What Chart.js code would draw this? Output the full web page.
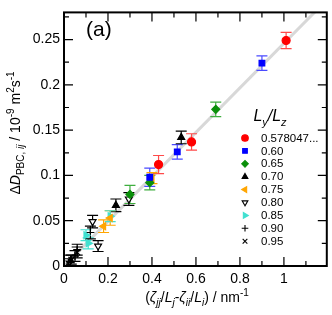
<!DOCTYPE html>
<html>
<head>
<meta charset="utf-8">
<script src="https://cdn.jsdelivr.net/npm/chart.js"></script>
<style>
  html, body { margin: 0; padding: 0; background: #fff; }
  #wrap { width: 332px; height: 315px; }
</style>
</head>
<body>
<div id="wrap"><canvas id="dpbcChart" width="332" height="315"></canvas></div>
<script>
    // L_y/L_z groups
    const ratioLabels = ['0.578047...', '0.60', '0.65', '0.70', '0.75', '0.80', '0.85', '0.90', '0.95'];

    // (zeta_jj/L_j - zeta_ii/L_i) in nm^-1
    const xData = [
        [0.43, 0.58, 1.01],
        [0.39, 0.515, 0.90],
        [0.30, 0.39, 0.69],
        [0.03, 0.236, 0.533],
        [0.18, 0.21, 0.40],
        [0.13, 0.155, 0.295],
        [0.10, 0.11, 0.21],
        [0.05, 0.06, 0.12],
        [0.02, 0.033, 0.06]
    ];
    // Delta D_PBC,ij in 10^-9 m^2 s^-1
    const yData = [
        [0.112, 0.137, 0.249],
        [0.098, 0.126, 0.224],
        [0.079, 0.092, 0.173],
        [0.006, 0.067, 0.142],
        [0.044, 0.053, 0.097],
        [0.049, 0.022, 0.074],
        [0.034, 0.025, 0.055],
        [0.011, 0.018, 0.037],
        [0.003, 0.007, 0.015]
    ];
    const yErr = [
        [0.010, 0.009, 0.009],
        [0.010, 0.008, 0.008],
        [0.010, 0.008, 0.008],
        [0.006, 0.007, 0.007],
        [0.007, 0.008, 0.006],
        [0.007, 0.006, 0.007],
        [0.006, 0.006, 0.006],
        [0.006, 0.006, 0.007],
        [0.005, 0.005, 0.006]
    ];

    // fitted line
    const fitX = [0, 1.2];
    const fitY = [0, 0.295];

    const xTicks = [0, 0.2, 0.4, 0.6, 0.8, 1];
    const yTicks = [0, 0.05, 0.1, 0.15, 0.2, 0.25];
    const xMinor = [0.1, 0.3, 0.5, 0.7, 0.9, 1.1];
    const yMinor = [0.025, 0.075, 0.125, 0.175, 0.225, 0.275];

    const FONT = '"Liberation Sans", Arial, Helvetica, sans-serif';

    const styles = [
        { color: '#ff0000', err: '#ff4a4a', style: 'circle', rot: 0, fill: '#ff0000' },
        { color: '#0000ff', err: '#4a4aff', style: 'rect', rot: 0, fill: '#0000ff' },
        { color: '#0a8f0a', err: '#3fae3f', style: 'rectRot', rot: 0, fill: '#0a8f0a' },
        { color: '#000000', err: '#000000', style: 'triangle', rot: 0, fill: '#000000' },
        { color: '#ffa500', err: '#ffa500', style: 'triangle', rot: -90, fill: '#ffa500' },
        { color: '#000000', err: '#000000', style: 'triangle', rot: 180, fill: '#ffffff' },
        { color: '#40e0d0', err: '#40e0d0', style: 'triangle', rot: 90, fill: '#40e0d0' },
        { color: '#000000', err: '#000000', style: 'cross', rot: 0, fill: '#000000' },
        { color: '#000000', err: '#000000', style: 'crossRot', rot: 0, fill: '#000000' }
    ];

    const datasets = ratioLabels.map((lab, i) => ({
        label: lab,
        data: xData[i].map((x, j) => ({ x: x, y: yData[i][j] })),
        pointStyle: styles[i].style,
        pointRotation: styles[i].rot,
        pointRadius: 4,
        pointBackgroundColor: styles[i].fill,
        pointBorderColor: styles[i].color,
        pointBorderWidth: 1.2,
        showLine: false,
        order: 0
    }));
    const lineIndex = datasets.length;
    datasets.push({
        label: 'fit',
        data: fitX.map((x, j) => ({ x: x, y: fitY[j] })),
        showLine: true,
        borderColor: '#d8d8d8',
        borderWidth: 3,
        pointRadius: 0,
        order: 10
    });

    // draw a list of [text, kind] pieces; kind: '', 'i', 'sub', 'isub', 'sup'
    function richText(ctx, segs, cx, cy, size, angle) {
        const fontFor = (k) => {
            const small = (k === 'sub' || k === 'isub' || k === 'sup');
            const it = (k === 'i' || k === 'isub');
            return (it ? 'italic ' : '') + (small ? Math.round(size * 0.7) : size) + 'px ' + FONT;
        };
        let w = 0;
        segs.forEach(s => { ctx.font = fontFor(s[1]); w += ctx.measureText(s[0]).width; });
        ctx.save();
        ctx.translate(cx, cy);
        ctx.rotate(angle || 0);
        ctx.fillStyle = '#000';
        ctx.textBaseline = 'alphabetic';
        ctx.textAlign = 'left';
        let x = -w / 2;
        segs.forEach(s => {
            ctx.font = fontFor(s[1]);
            let dy = 0;
            if (s[1] === 'sub' || s[1] === 'isub') dy = size * 0.3;
            if (s[1] === 'sup') dy = -size * 0.45;
            ctx.fillText(s[0], x, dy);
            x += ctx.measureText(s[0]).width;
        });
        ctx.restore();
    }

    const decorations = {
        id: 'decorations',
        afterDatasetDraw(chart, args) {
            if (args.index !== lineIndex) return;
            const ctx = chart.ctx, xs = chart.scales.x, ys = chart.scales.y, a = chart.chartArea;
            ctx.save();
            ctx.beginPath();
            ctx.rect(a.left, a.top, a.right - a.left, a.bottom - a.top);
            ctx.clip();
            ctx.lineWidth = 1.2;
            for (let i = 0; i < ratioLabels.length; i++) {
                ctx.strokeStyle = styles[i].err;
                for (let j = 0; j < xData[i].length; j++) {
                    const px = xs.getPixelForValue(xData[i][j]);
                    const y1 = ys.getPixelForValue(yData[i][j] - yErr[i][j]);
                    const y2 = ys.getPixelForValue(yData[i][j] + yErr[i][j]);
                    ctx.beginPath();
                    ctx.moveTo(px, y1); ctx.lineTo(px, y2);
                    ctx.moveTo(px - 5.5, y1); ctx.lineTo(px + 5.5, y1);
                    ctx.moveTo(px - 5.5, y2); ctx.lineTo(px + 5.5, y2);
                    ctx.stroke();
                }
            }
            ctx.restore();
        },
        afterDraw(chart) {
            const ctx = chart.ctx, xs = chart.scales.x, ys = chart.scales.y, a = chart.chartArea;
            ctx.save();
            // inward ticks on all sides
            ctx.strokeStyle = '#000';
            ctx.lineWidth = 1.2;
            ctx.beginPath();
            const xt = (v, len) => {
                const p = xs.getPixelForValue(v);
                ctx.moveTo(p, a.bottom); ctx.lineTo(p, a.bottom - len);
                ctx.moveTo(p, a.top); ctx.lineTo(p, a.top + len);
            };
            const yt = (v, len) => {
                const p = ys.getPixelForValue(v);
                ctx.moveTo(a.left, p); ctx.lineTo(a.left + len, p);
                ctx.moveTo(a.right, p); ctx.lineTo(a.right - len, p);
            };
            xTicks.forEach(v => xt(v, 9));
            xMinor.forEach(v => xt(v, 5));
            yTicks.forEach(v => yt(v, 9));
            yMinor.forEach(v => yt(v, 5));
            ctx.stroke();
            // frame
            ctx.lineWidth = 2;
            ctx.strokeRect(a.left, a.top, a.right - a.left, a.bottom - a.top);

            // panel label
            ctx.fillStyle = '#000';
            ctx.font = '21px ' + FONT;
            ctx.textAlign = 'left';
            ctx.textBaseline = 'alphabetic';
            ctx.fillText('(a)', a.left + 22, 36);

            // axis titles
            richText(ctx, [['(', ''], ['\u03B6', 'i'], ['jj', 'isub'], ['/', ''], ['L', 'i'], ['j', 'isub'],
                ['-', ''], ['\u03B6', 'i'], ['ii', 'isub'], ['/', ''], ['L', 'i'], ['i', 'isub'],
                [') / nm', ''], ['-1', 'sup']], 197, 302, 14, 0);
            richText(ctx, [['\u0394', ''], ['D', 'i'], ['PBC, ', 'sub'], ['ij', 'isub'], [' / 10', ''],
                ['-9', 'sup'], [' m', ''], ['2', 'sup'], ['s', ''], ['-1', 'sup']], 20, 133, 14, -Math.PI / 2);

            // legend
            richText(ctx, [['L', 'i'], ['y', 'isub'], ['/', 'i'], ['L', 'i'], ['z', 'isub']], 270, 121, 16, 0);
            ratioLabels.forEach((lab, i) => {
                const ly = 138 + i * 12.9;
                const st = styles[i];
                ctx.fillStyle = st.fill;
                ctx.strokeStyle = st.color;
                ctx.lineWidth = 1.1;
                Chart.helpers.drawPoint(ctx, { pointStyle: st.style, radius: 3.3, rotation: st.rot, borderWidth: 1.1 }, 245, ly);
                ctx.fillStyle = '#000';
                ctx.font = '11.5px ' + FONT;
                ctx.textAlign = 'left';
                ctx.textBaseline = 'middle';
                ctx.fillText(lab, 261, ly + 0.5);
            });
            ctx.restore();
        }
    };

    const ctx = document.getElementById('dpbcChart').getContext('2d');
    const dpbcChart = new Chart(ctx, {
        type: 'scatter',
        data: { datasets: datasets },
        options: {
            responsive: false,
            animation: false,
            layout: { padding: { top: 3, right: 2, left: 0, bottom: 0 } },
            plugins: {
                legend: { display: false },
                tooltip: { enabled: false }
            },
            scales: {
                x: {
                    type: 'linear',
                    min: 0,
                    max: 1.195,
                    afterBuildTicks: (s) => { s.ticks = xTicks.map(v => ({ value: v })); },
                    afterFit: (s) => { s.height = 49; },
                    grid: { display: false, drawTicks: false },
                    border: { display: false },
                    ticks: {
                        padding: 5,
                        color: '#000',
                        font: { family: FONT, size: 14 },
                        maxRotation: 0,
                        callback: (v) => String(v)
                    }
                },
                y: {
                    type: 'linear',
                    min: 0,
                    max: 0.28,
                    afterBuildTicks: (s) => { s.ticks = yTicks.map(v => ({ value: v })); },
                    afterFit: (s) => { s.width = 64; },
                    grid: { display: false, drawTicks: false },
                    border: { display: false },
                    ticks: {
                        padding: 4,
                        color: '#000',
                        font: { family: FONT, size: 14 },
                        callback: (v) => String(v)
                    }
                }
            }
        },
        plugins: [decorations]
    });
</script>
</body>
</html>
